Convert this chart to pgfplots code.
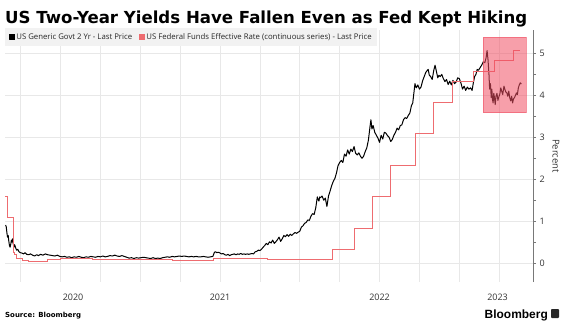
\documentclass[border=0pt]{standalone}
\usepackage{fontspec}
\setmainfont{Open Sans}
\newfontfamily\titlefont{DejaVu Sans}
\newfontfamily\logofont{Liberation Sans}
\usepackage{graphicx}
\usepackage{pgfplots}
\pgfplotsset{compat=1.18}

\definecolor{fedred}{RGB}{238,108,112}
\definecolor{boxpink}{RGB}{240,80,100}
\definecolor{gridgray}{RGB}{232,232,232}
\definecolor{legbg}{RGB}{242,242,242}
\definecolor{tickgray}{RGB}{50,50,50}
\definecolor{axgray}{RGB}{120,120,120}

\pgfplotstableread{
x y
2020.156 0.91
2020.160 0.86
2020.164 0.72
2020.168 0.62
2020.172 0.66
2020.176 0.52
2020.180 0.42
2020.184 0.38
2020.188 0.45
2020.192 0.55
2020.196 0.50
2020.200 0.58
2020.204 0.45
2020.208 0.38
2020.212 0.44
2020.216 0.40
2020.220 0.35
2020.225 0.31
2020.232 0.33
2020.240 0.27
2020.248 0.25
2020.258 0.24
2020.268 0.22
2020.278 0.25
2020.288 0.21
2020.300 0.20
2020.312 0.22
2020.325 0.19
2020.338 0.17
2020.350 0.20
2020.362 0.18
2020.375 0.21
2020.390 0.19
2020.405 0.22
2020.420 0.20
2020.435 0.19
2020.450 0.18
2020.465 0.17
2020.480 0.19
2020.495 0.16
2020.510 0.15
2020.525 0.16
2020.540 0.14
2020.555 0.15
2020.570 0.13
2020.585 0.15
2020.600 0.14
2020.615 0.16
2020.630 0.14
2020.645 0.13
2020.660 0.15
2020.675 0.14
2020.690 0.16
2020.705 0.15
2020.720 0.14
2020.735 0.16
2020.750 0.15
2020.765 0.17
2020.780 0.15
2020.795 0.16
2020.810 0.18
2020.825 0.17
2020.840 0.19
2020.855 0.17
2020.870 0.16
2020.885 0.18
2020.900 0.16
2020.915 0.14
2020.930 0.12
2020.945 0.13
2020.960 0.11
2020.975 0.13
2020.990 0.12
2021.005 0.13
2021.020 0.14
2021.035 0.13
2021.050 0.12
2021.065 0.11
2021.080 0.13
2021.095 0.11
2021.110 0.12
2021.125 0.11
2021.140 0.13
2021.155 0.14
2021.170 0.15
2021.185 0.14
2021.200 0.16
2021.215 0.15
2021.230 0.16
2021.245 0.17
2021.260 0.16
2021.275 0.17
2021.290 0.16
2021.305 0.15
2021.320 0.16
2021.335 0.15
2021.350 0.16
2021.365 0.15
2021.380 0.15
2021.395 0.16
2021.410 0.15
2021.425 0.14
2021.440 0.15
2021.455 0.16
2021.460 0.21
2021.465 0.26
2021.472 0.27
2021.480 0.25
2021.490 0.26
2021.500 0.24
2021.510 0.22
2021.520 0.23
2021.530 0.20
2021.540 0.19
2021.550 0.21
2021.560 0.18
2021.570 0.20
2021.580 0.21
2021.590 0.22
2021.600 0.20
2021.610 0.22
2021.620 0.21
2021.630 0.23
2021.640 0.21
2021.650 0.22
2021.660 0.21
2021.670 0.22
2021.680 0.21
2021.690 0.22
2021.700 0.23
2021.710 0.22
2021.720 0.27
2021.730 0.28
2021.740 0.31
2021.750 0.30
2021.760 0.33
2021.770 0.38
2021.780 0.42
2021.790 0.47
2021.800 0.44
2021.810 0.51
2021.820 0.48
2021.830 0.55
2021.840 0.47
2021.850 0.51
2021.860 0.56
2021.870 0.62
2021.880 0.52
2021.890 0.58
2021.900 0.66
2021.910 0.63
2021.920 0.68
2021.930 0.64
2021.940 0.69
2021.950 0.66
2021.960 0.70
2021.970 0.73
2021.980 0.71
2021.990 0.74
2022.000 0.76
2022.010 0.86
2022.020 0.89
2022.030 0.95
2022.040 0.97
2022.050 1.03
2022.060 1.02
2022.070 1.12
2022.080 1.18
2022.090 1.16
2022.100 1.32
2022.110 1.58
2022.115 1.52
2022.120 1.48
2022.125 1.58
2022.130 1.56
2022.140 1.60
2022.150 1.50
2022.160 1.55
2022.170 1.35
2022.180 1.60
2022.190 1.72
2022.200 1.85
2022.210 1.95
2022.220 2.02
2022.230 2.15
2022.240 2.33
2022.250 2.40
2022.260 2.45
2022.270 2.40
2022.280 2.60
2022.290 2.55
2022.300 2.70
2022.310 2.60
2022.320 2.72
2022.330 2.66
2022.340 2.78
2022.350 2.62
2022.360 2.58
2022.370 2.63
2022.380 2.55
2022.390 2.50
2022.400 2.55
2022.410 2.66
2022.420 2.75
2022.430 2.93
2022.440 3.25
2022.446 3.42
2022.452 3.20
2022.460 3.28
2022.470 3.12
2022.480 3.05
2022.490 2.98
2022.500 2.88
2022.510 3.05
2022.520 2.96
2022.530 3.12
2022.540 3.10
2022.550 3.04
2022.560 3.00
2022.570 2.90
2022.580 2.95
2022.590 3.05
2022.600 3.12
2022.610 3.22
2022.620 3.18
2022.630 3.28
2022.640 3.30
2022.650 3.42
2022.660 3.47
2022.670 3.45
2022.680 3.52
2022.690 3.58
2022.700 3.76
2022.708 3.82
2022.715 4.05
2022.722 4.28
2022.730 4.18
2022.740 4.25
2022.750 4.15
2022.760 4.20
2022.770 4.35
2022.780 4.45
2022.790 4.55
2022.800 4.60
2022.805 4.62
2022.812 4.48
2022.820 4.45
2022.830 4.38
2022.840 4.60
2022.848 4.72
2022.856 4.58
2022.865 4.42
2022.872 4.48
2022.880 4.45
2022.890 4.50
2022.900 4.40
2022.910 4.33
2022.920 4.38
2022.930 4.26
2022.940 4.34
2022.950 4.25
2022.960 4.36
2022.970 4.28
2022.980 4.32
2022.990 4.42
2023.000 4.40
2023.010 4.30
2023.020 4.15
2023.030 4.22
2023.040 4.12
2023.050 4.20
2023.060 4.15
2023.070 4.18
2023.080 4.12
2023.088 4.30
2023.096 4.45
2023.104 4.50
2023.112 4.62
2023.120 4.60
2023.130 4.66
2023.140 4.72
2023.150 4.80
2023.160 4.78
2023.168 4.90
2023.174 5.07
2023.180 4.85
2023.186 4.50
2023.190 4.15
2023.195 4.28
2023.200 3.95
2023.204 4.15
2023.208 3.90
2023.212 3.82
2023.216 4.05
2023.220 3.96
2023.225 3.78
2023.230 3.98
2023.236 4.05
2023.242 3.88
2023.248 3.97
2023.254 4.03
2023.260 4.18
2023.266 4.10
2023.272 4.02
2023.280 4.22
2023.286 4.14
2023.292 4.08
2023.298 4.06
2023.304 3.98
2023.310 4.10
2023.316 3.95
2023.322 3.87
2023.328 3.98
2023.334 3.82
2023.340 3.92
2023.346 3.95
2023.352 4.00
2023.358 4.06
2023.364 4.02
2023.370 4.18
2023.376 4.25
2023.382 4.30
2023.389 4.27
}\twoyear

\pgfplotstableread{
x y
2020.155 1.58
2020.170 1.09
2020.205 0.25
2020.213 0.20
2020.222 0.12
2020.232 0.10
2020.260 0.06
2020.300 0.05
2020.420 0.08
2020.500 0.10
2020.700 0.09
2021.100 0.08
2021.200 0.07
2021.330 0.06
2021.460 0.10
2021.800 0.08
2022.208 0.33
2022.342 0.83
2022.456 1.58
2022.571 2.33
2022.726 3.08
2022.841 3.83
2022.956 4.33
2023.090 4.58
2023.223 4.83
2023.340 5.08
2023.383 5.08
}\fedfunds

\begin{document}
\begin{tikzpicture}[x=1bp,y=1bp]
\path[use as bounding box] (-5,-43) rectangle (563,282);
\begin{axis}[
  at={(0,0)}, anchor=south west,
  scale only axis, width=528bp, height=252bp,
  xmin=2020.152, xmax=2023.462,
  ymin=-0.45, ymax=5.56,
  axis x line*=bottom, axis y line*=right,
  x axis line style={draw=none},
  y axis line style={draw=axgray, line width=0.8bp},
  xtick={2020.25,2020.5,2020.75,2021,2021.25,2021.5,2021.75,2022,2022.25,2022.5,2022.75,2023,2023.25},
  xticklabels={},
  xtick style={draw=none},
  extra x ticks={2020.579,2021.5,2022.5,2023.24},
  extra x tick labels={2020,2021,2022,2023},
  extra x tick style={grid=none, xtick style={draw=none}},
  xticklabel style={font=\fontsize{9}{9}\selectfont, text=tickgray, anchor=center, yshift=-12.5bp},
  ytick={0,1,2,3,4,5},
  minor y tick num=1,
  ytick pos=right,
  tick align=outside,
  major tick length=3bp, minor tick length=3bp,
  ytick style={draw=axgray, line width=0.6bp},
  yticklabel style={font=\fontsize{9}{9}\selectfont, text=tickgray},
  /pgf/number format/assume math mode=true,
  grid=major,
  major grid style={draw=gridgray, line width=0.6bp},
  ylabel={Percent},
  every axis y label/.style={at={(rel axis cs:1.0436,0.5)}, rotate=-90, anchor=center, font=\fontsize{9.5}{10}\selectfont, text=tickgray},
  legend style={at={(rel axis cs:0,1)}, anchor=north west, yshift=2bp,
    fill=legbg, draw=none, font=\fontsize{7.8}{8.5}\selectfont, text=black!85,
    inner xsep=4bp, inner ysep=4bp, column sep=0pt,
    nodes={inner xsep=1bp, inner ysep=1bp},
    /tikz/every even column/.append style={column sep=6bp}},
  legend columns=2,
  legend cell align=left,
  legend image code/.code={\fill[#1] (0bp,-2.6bp) rectangle (5.2bp,2.6bp);},
]
\addplot[black, line width=1bp, line join=round] table[x=x,y=y] {\twoyear};
\addlegendentry{US Generic Govt 2 Yr - Last Price}
\addplot[fedred, line width=1bp, const plot] table[x=x,y=y] {\fedfunds};
\addlegendentry{US Federal Funds Effective Rate (continuous series) - Last Price}
\addplot[fill=boxpink, fill opacity=0.55, draw=boxpink, draw opacity=0.6, forget plot]
  coordinates {(2023.147,3.59) (2023.418,3.59) (2023.418,5.39) (2023.147,5.39)} -- cycle;
\end{axis}
\node[anchor=base west, inner sep=0pt] at (0,259) {\resizebox{522bp}{!}{\titlefont\bfseries US Two-Year Yields Have Fallen Even as Fed Kept Hiking}};
\node[anchor=base west, inner sep=0pt, font=\titlefont\bfseries\fontsize{7}{7}\selectfont] at (0,-35) {Source: Bloomberg};
\node[anchor=base east, inner sep=0pt, font=\logofont\bfseries\fontsize{12}{12}\selectfont] at (543,-36) {Bloomberg};
\fill[black!85, rounded corners=0.8bp] (546,-36) rectangle (554,-27);
\end{tikzpicture}
\end{document}
